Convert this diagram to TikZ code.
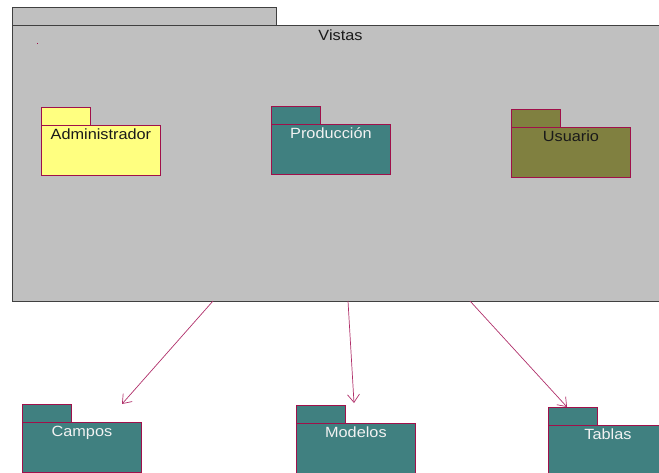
\documentclass[tikz,border=0pt]{standalone}
\usepackage{fontspec}
\setmainfont{Liberation Sans}[FakeStretch=1.1]
\usetikzlibrary{arrows.meta}

\definecolor{pkgline}{HTML}{A0104A}
\definecolor{depline}{HTML}{B0306A}
\definecolor{frameline}{HTML}{404040}
\definecolor{viewfill}{HTML}{C0C0C0}
\definecolor{adminfill}{HTML}{FFFF80}
\definecolor{tealfill}{HTML}{408080}
\definecolor{olivefill}{HTML}{808040}
\definecolor{lighttext}{HTML}{F2F2F2}
\definecolor{darktext}{HTML}{1A1A1A}

\tikzset{
  pkgfont/.style={font=\fontsize{14.8}{17}\selectfont},
  bigtab/.style={draw=frameline, fill=viewfill, line width=0.9pt, inner sep=0pt,
    anchor=north west, minimum width=264pt, minimum height=18pt},
  bigbody/.style={draw=frameline, fill=viewfill, line width=0.9pt, inner sep=0pt,
    anchor=north west, minimum width=660pt, minimum height=276pt},
  pkgtab/.style={draw=pkgline, line width=0.8pt, inner sep=0pt,
    anchor=north west, minimum width=49pt, minimum height=18pt},
  pkgbody/.style={draw=pkgline, line width=0.8pt, inner sep=0pt,
    anchor=north west, minimum width=119pt, minimum height=50pt},
  pkglabel/.style={pkgfont, inner sep=0pt, anchor=base},
  dep/.style={draw=depline, line width=0.7pt,
    -{Straight Barb[length=8pt,width=12pt,line width=0.7pt]}},
}

% name, x, y of tab top, fill, text colour, label
\newcommand\umlpackage[6]{%
  \node[pkgtab, fill=#4] (#1tab) at (#2,-#3) {};
  \node[pkgbody, fill=#4] (#1) at (#2,-#3-18) {};
  \node[pkglabel, text=#5] (#1label) at ([yshift=-14.5pt]#1.north) {#6};
}

\begin{document}
\begin{tikzpicture}[x=1pt,y=1pt]
\useasboundingbox (0,0) rectangle (659,-472);
\clip (0,0) rectangle (659,-472);

% enclosing package
\node[bigtab] (vistastab) at (12,-7) {};
\node[bigbody] (vistas) at (12,-25) {};
\node[pkglabel, text=darktext] (vistaslabel) at (340.5,-40) {Vistas};
\fill[pkgline] (36.5,-42.6) rectangle (38,-43.6);

% nested packages
\umlpackage{admin}{41}{107}{adminfill}{darktext}{Administrador}
\umlpackage{prod}{271}{106}{tealfill}{lighttext}{Producción}
\umlpackage{user}{511}{109}{olivefill}{darktext}{Usuario}

% packages below
\umlpackage{campos}{22}{404}{tealfill}{lighttext}{Campos}
\umlpackage{modelos}{296}{405}{tealfill}{lighttext}{Modelos}
\umlpackage{tablas}{548}{407}{tealfill}{lighttext}{Tablas}

% dependency end points
\coordinate (s1) at (213,-301);
\coordinate (s2) at (348,-301);
\coordinate (s3) at (470,-301);
\coordinate (e1) at (122,-404);
\coordinate (e2) at (354,-403);
\coordinate (e3) at (567,-407);

\draw[dep] (s1) -- (e1);
\draw[dep] (s2) -- (e2);
\draw[dep] (s3) -- (e3);
\end{tikzpicture}
\end{document}
